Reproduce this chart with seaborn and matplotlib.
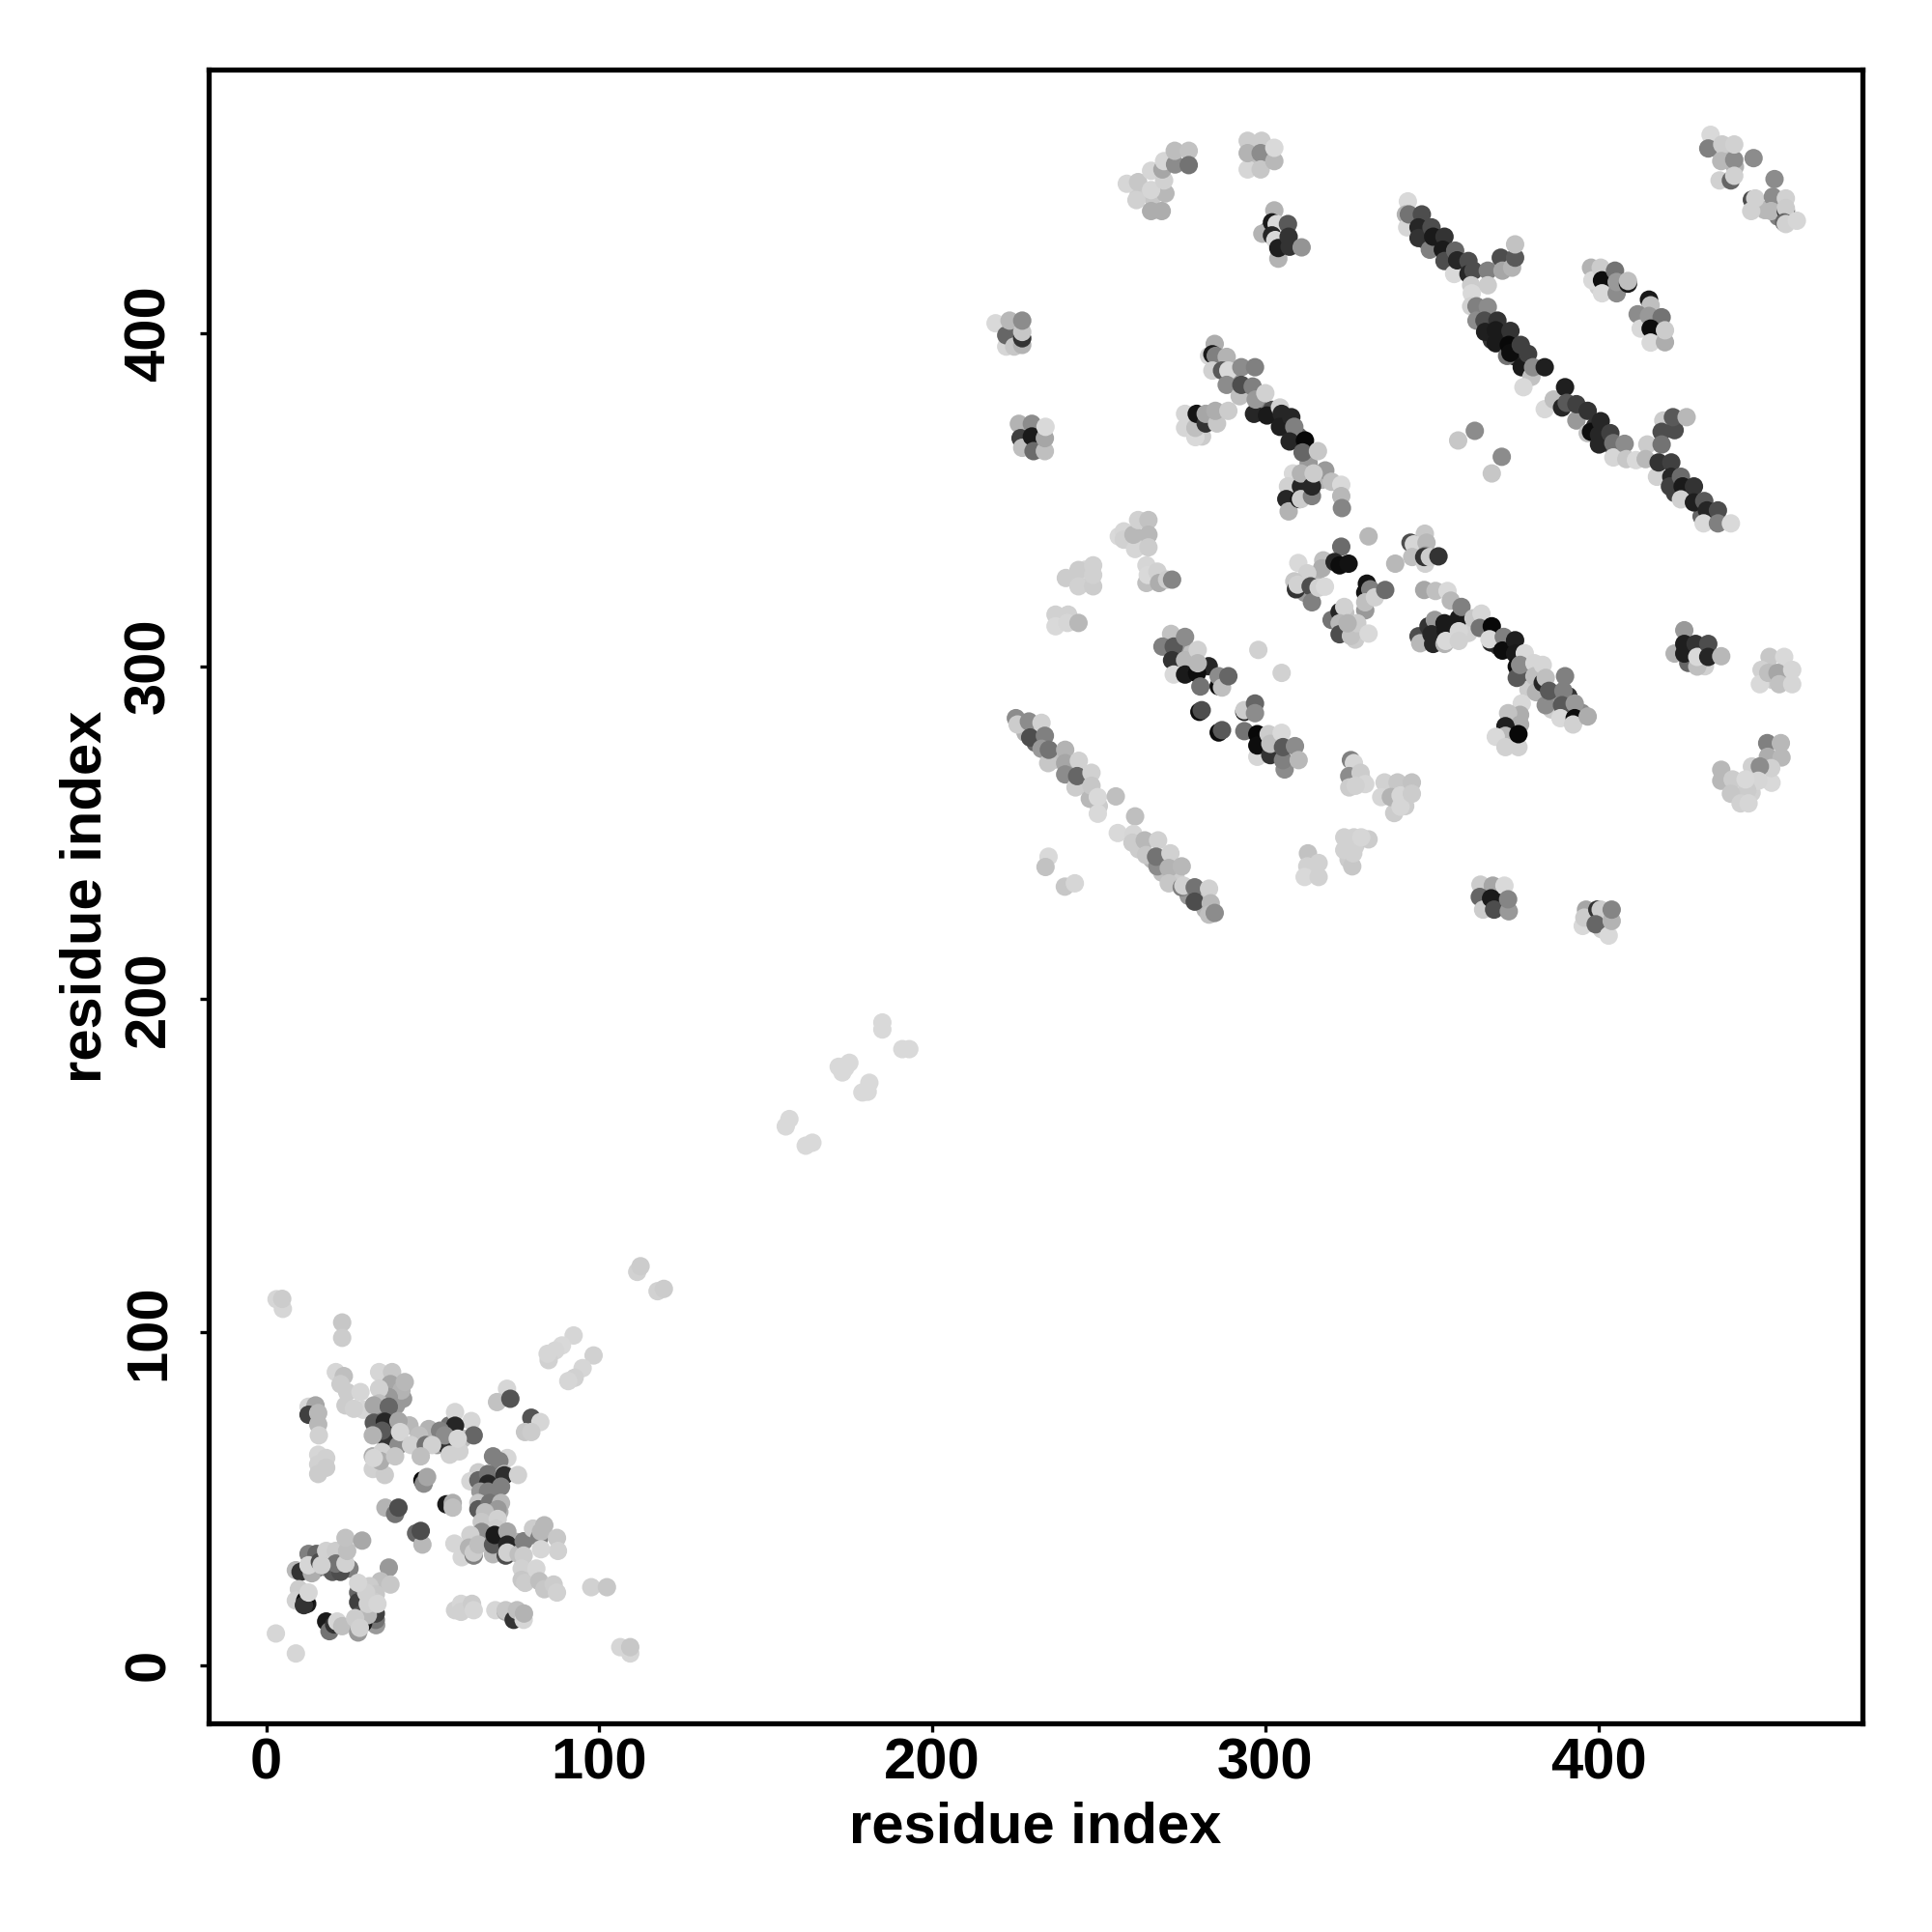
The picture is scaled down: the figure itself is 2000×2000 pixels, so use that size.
import pandas as pd
import seaborn as sns
import matplotlib.pyplot as plt

# contacts as (residue i, residue j, grey level), later ones are drawn on top
underlay = [(228,280,.7),(231,277,.4),(237,272,.75),(241,268,.7),(245,265,.78),(250,258,.8),(262,245,.8),(266,242,.72),(269,238,.75),(273,237,.8),(277,231,.6),(281,230,.75),(282,227,.7),
    (290,386,.6),(294,383,.7),(298,378,.5),(302,377,.3),(306,372,.2),(310,369,.4),(313,361,.6),(317,356,.7),
    (36,66,.7),(38,70,.55),(35,76,.5),(39,78,.6),(43,72,.72),(50,70,.6),(55,72,.45),(59,68,.75),(65,56,.6),(68,52,.5),(70,46,.7),(66,38,.6),(70,38,.4),(75,37,.7),(66,47,.72),
    (25,29,.5),(22,31,.4),(15,29,.4),(30,20,.4),(33,12,.6),(29,18,.35),(11,20,.3),
    (262,442,.8),(266,441,.78),(270,442,.72),(297,451,.75),(300,453,.7),(224,398,.6),(224,401,.5),(230,367,.6),(281,369,.8),(305,428,.15),(301,431,.5),
    (348,428,.3),(352,427,.25),(356,423,.3),(368,398,.2),(371,397,.15),(375,393,.15),(399,372,.2),(403,367,.3),(423,352,.25),(427,351,.3),(431,345,.4),
    (262,336,.82),(245,326,.8),(246,329,.84),(327,246,.82),(325,242,.8),(314,238,.84),(329,266,.82),(337,263,.8),(342,258,.8),(173,178,.85),
    (275,305,.6),(283,300,.15),(278,304,.75),(303,276,.4),(300,275,.7),
    (312,322,.6),(315,326,.7),(324,316,.76),(327,308,.8),(346,309,.3),(349,312,.2),(352,309,.84),(356,311,.2),(361,310,.82),
    (370,306,.2),(379,297,.3),(382,298,.8),(387,291,.6),(391,291,.2),(386,287,.8),(395,286,.55),(379,293,.8),
    (427,301,.4),(432,300,.82),(452,296,.8),(456,297,.75),(442,262,.84),(446,262,.82),(452,265,.85),(366,231,.5),(370,229,.2),(397,223,.8),(401,221,.82),(403,224,.75),
    (437,454,.75),(441,450,.7),(450,437,.72),(454,435,.5),(400,414,.82),(404,416,.5),(414,403,.7),(417,399,.7)]

sparse_low = [(3.1,109.9,.84),(5,107,.84),(4.8,110,.8),(22.8,102.9,.78),(22.8,98.3,.8),
    (2.9,9.5,.84),(8.9,3.5,.84),(106.3,5.4,.84),(109.3,3.5,.84),(109.3,5.4,.78),
    (97.6,23.4,.82),(102.3,23.4,.78),(111.4,118.1,.82),(112.4,119.8,.8),(117.5,112.3,.82),(119.4,113,.8),
    (92.3,99,.84),(98.3,93,.82),(88.8,96,.85),(86.8,94.5,.84),(84.8,91.6,.82),(84.5,93.5,.84),
    (95,89.2,.84),(92.6,86.3,.82),(90.7,85.3,.84),
    (72.3,83,.84),(69.3,79,.76),(73.3,80,.33),(79.6,74.3,.33),(77.7,70,.78),(82.3,73,.84),(79.6,70,.8),
    (56.7,76,.84),(61.6,73.3,.84),(56.7,71.9,.15),(62.3,69,.4)]

block_upper_left = [(20.9,88,.84),(23.3,86.8,.75),(22.3,84.4,.8),(24.3,82,.8),(28.3,82,.84),(23.8,78,.8),(29.1,76.7,.84),(26.3,77,.82),
    (12.7,77.6,.84),(14.8,78,.65),(12.7,75.2,.25),(15.6,75.7,.72),(15.6,72.3,.72),(15.8,69,.82),
    (15.6,63.2,.84),(18,62.2,.82),(15.6,60.3,.82),(18,59.3,.8),(15.6,57.4,.8)]

block_column = [(33.9,88,.84),(37.8,88,.78),(37.3,84.4,.65),(41.1,80,.6),(40.6,82.5,.7),(41.6,85,.72),(36.8,80.5,.6),(33.9,83,.82),
    (33.9,78.6,.75),(32.3,78,.65),(36.8,77.6,.4),(32.3,72.8,.35),(35.6,73.1,.15),(39.7,73.3,.65),(35.8,68.5,.2),(39.7,66,.55),
    (34.8,70.4,.35),(40.2,70,.84),(32,69,.7),(32,62.7,.68),(34.8,64,.82),(32,58.9,.82),(35.6,57.1,.8),(34.3,61.3,.68),(38.7,62.7,.78),(32.3,62.2,.84)]

block_band = [(46.4,64.6,.75),(48.8,70.9,.7),(45.9,69,.75),(43.5,66.1,.82),(47.9,66.1,.45),(51.3,66.1,.6),(52.2,70.4,.5),(54.1,66.1,.2),
    (53.6,69,.55),(49.8,66.1,.82),(55.1,63.2,.82),(58,64.2,.82),(57.5,68,.84),(46.4,62.7,.75),
    (46.9,55.5,.05),(47.3,54.5,.55),(48.3,56.5,.65),(54.1,48.3,.1),(56,48.7,.68),(56,47.3,.75),
    (35.8,47.3,.7),(38.7,45.4,.45),(39.7,47.3,.3),(45,39.6,.4),(46.9,36.2,.72),(46.4,40.3,.3)]

block_right = [(68.1,62.7,.5),(72.4,62.2,.84),(70,61.3,.5),(63.7,57.9,.8),(61.3,55.2,.84),(63.7,55.5,.4),(66.6,57.4,.45),(66.6,54.5,.15),
    (71.5,57.4,.75),(71.5,57,.18),(75.6,57.1,.82),(70.5,53.6,.5),(64.3,52.1,.6),(66.6,52.1,.5),(63.7,48.7,.78),(63.7,46.8,.35),
    (67.1,48.7,.45),(70.5,48.7,.72),(69.5,46.8,.6),(65.7,45.9,.75),(64.7,43,.78),(69.5,43.9,.82),(69,41,.8),(64.7,40,.55)]

block_lower_row = [(56.5,36.5,.84),(58.7,32.4,.84),(61.3,39.1,.82),(60.9,35.3,.7),(62.3,32.9,.5),(62.3,33.8,.8),(63.7,36.2,.75),(68.1,33.3,.72),
    (68.1,36.2,.35),(68.6,39.1,.1),(72.4,40.1,.65),(72.4,36.2,.15),(71.9,32.9,.3),(72.4,33.8,.82),(75.8,33.3,.75),(77.3,37.2,.5),
    (80.1,41,.8),(83.5,42,.72),(82,38.2,.5),(82.5,40.1,.72),(87.3,38.2,.78),(87.6,34.3,.82),(82.5,34.8,.84),(77.3,32.9,.8),
    (76.7,29,.82),(81.1,29,.84),(76.7,25.6,.78),(77.7,24.7,.8),(82,25.2,.75),(83.5,22.8,.78),(86.3,24.2,.8),(87.3,21.8,.82)]

block_ring = [(8.9,28.5,.72),(10.3,28,.2),(12.7,33.4,.5),(15.1,33.4,.4),(13.7,27.6,.68),(12.7,30,.84),(16.1,31,.3),(18,34.3,.82),(20.9,34.3,.8),
    (17.5,29.5,.55),(19.9,28,.35),(22.3,28,.3),(20.9,30.5,.45),(23.8,30.5,.82),(24.3,34.3,.75),(23.8,38.2,.76),(28.8,37.4,.66),(16.6,30,.82),
    (9.8,22.8,.8),(8.9,19.4,.82),(12.3,18.4,.1),(11.7,19.4,.05),(11.3,18,.2),(12.7,21.8,.84),
    (18,13.1,.1),(19,10.2,.45),(20.4,12.2,.2),(21.3,13.1,.84),(22.8,11.7,.75),
    (36.8,29.3,.6),(34.3,25.2,.75),(37.3,24.2,.78),(31,23.7,.8),(27.6,21.8,.4),(27.6,18.9,.25),(32.9,21.3,.78),(32.9,18.9,.8),
    (32.9,13.6,.45),(32.9,15.5,.25),(29.1,12.6,.1),(27.6,9.8,.6),(28.1,15,.3),(30.5,15,.72),(30.5,18.4,.82),(26.7,14.1,.8),(28.1,11.2,.82),
    (30,21.8,.82),(27.6,24.7,.84),(33.4,18.4,.84)]

low_strip = [(56.7,16.5,.82),(58.5,18.4,.84),(58.5,16,.82),(61.8,18.4,.8),(62.3,16.5,.84),(68.8,16.5,.84),
    (71.9,16,.7),(71.9,16.5,.78),(74.3,13.6,.2),(75.3,16.5,.75),(77.3,13.6,.84),(77.4,15.5,.7)]

linker = [(156,161.8,.85),(157.1,164,.85),(162,156,.85),(164,156.9,.85),(171.9,179.7,.85),(175.1,180.9,.85),(173.9,179.4,.85),
    (179,172,.85),(180.6,172.2,.85),(181.1,174.9,.85),(185,193,.85),(185,190.9,.85),(191,185,.85),(193.1,185,.85)]

top_clusters = [(258.4,444.9,.84),(261.8,445.4,.78),(261.3,440,.82),(265.7,448.8,.84),(265.7,443,.84),(265.7,436.7,.68),(268.9,436.7,.68),
    (269.6,445.9,.82),(269.1,449.2,.65),(269.6,451.7,.84),(272.9,450.7,.55),(272.8,454.8,.74),(277,454.8,.76),(277,450.5,.45),
    (294.7,457.8,.8),(294.7,449.2,.84),(294.7,454.1,.7),(298.9,457.8,.8),(298.6,454.1,.55),(298.6,449.2,.78),(302.7,451.7,.72),(302.7,455.7,.85),
    (302.7,436.9,.7),(299.1,429.9,.7),(302,433.3,.1),(303.4,432.8,.85),(302,429.4,.15),(303,428,.85),(303.9,422.4,.7),(303.9,425.6,.12),
    (306.8,432.8,.35),(307,429,.2),(307.3,426,.2),(310.9,425.8,.58),
    (219,403,.85),(222.2,396,.84),(222.2,399.4,.4),(223.2,403.8,.72),(224.6,396,.78),(227,396.5,.7),(227,398.5,.2),(227,400.4,.78),(227,403.8,.55),
    (226,372.8,.7),(229.9,372.8,.55),(226.5,368.5,.25),(227,365.6,.75),(229.9,369,.1),(230.4,364.6,.42),(233.8,364.6,.75),(233.8,368.5,.65),(234,371.9,.85),
    (275.9,375.8,.84),(275.9,371.6,.84),(279,368.8,.85),(279,371.6,.75),(279.4,375.8,.08),(282.1,372.9,.2),(282.1,375.8,.65),(285.5,372.9,.78),(285,376.7,.68),(288.9,376.7,.8)]

diag_mid = [(284.8,396.8,.68),(283.1,393.2,.84),(284.1,393.7,.1),(285.1,393.2,.5),(284.1,388.8,.82),(288.4,392.9,.7),(287,388.8,.35),(288.9,388.8,.85),
    (292.8,389.8,.55),(296.9,389.8,.5),(288.4,384.5,.55),(292.3,381.1,.75),(292.8,384.5,.3),(296.2,384,.5),(296.6,375.8,.15),(297.1,380.1,.6),
    (300,382,.82),(300.5,375.3,.1),(304.4,377.7,.82),(304.9,375.8,.15),(304.4,371.9,.12),(307.8,374.8,.15),(308.7,371.9,.5),(307.3,367.5,.15),
    (311.9,367.8,.03),(311.2,364.2,.4),(315.8,364.6,.78),(318,358.8,.6),(319.9,355.4,.75),(322.8,354.5,.85),(322.8,351.1,.72),(323,347.5,.52),
    (308.3,357.9,.85),(306.8,354,.82),(306.3,350.2,.15),(307,346.5,.7),(310.2,350.2,.08),(310.7,354,.15),(310.7,350.2,.8),(310.7,357.9,.7),
    (314,351.1,.5),(314,354,.15),(314.5,357.9,.8)]

diag_top = [(342.8,439.6,.85),(342.2,435.7,.7),(342.6,431.8,.84),(343.1,435.7,.45),(347,435.7,.3),(346,431.8,.15),(346,428.6,.2),(349.9,431.8,.3),
    (349.4,425.1,.5),(350.4,429,.1),(353.8,429,.2),(353.3,425.1,.1),(353.8,421.7,.3),(356.7,417.8,.85),(357,424.8,.4),(357.6,421.9,.15),
    (361,421.7,.3),(361,417.8,.15),(362.5,418.8,.3),(361.8,414.4,.8),(366.8,418.8,.5),(366.8,414.4,.8),
    (370.7,422.7,.3),(371.2,418.8,.65),(374.1,419.7,.7),(375,422.7,.35),(375,426.7,.76),
    (362,412,.85),(361.8,408.1,.82),(363.4,408.1,.5),(363.4,403.8,.55),(366.8,407.9,.55),(365.8,403.8,.3),(366,400.4,.12),(369.7,403.8,.2),
    (369.2,400.9,.1),(369.2,397,.1),(373.6,400.7,.2),(372.6,393.2,.45),(373.1,396.5,.03),(373.6,394.1,.05),(376.7,396.5,.25),(377,389.8,.1),
    (378.9,393.8,.25),(379.9,386.9,.76),(377.5,383.8,.85),(380.4,389.8,.55),(383.9,389.8,.12)]

diag_right = [(383.9,377.2,.85),(386.6,380.1,.75),(389.1,377.7,.15),(390,383.8,.12),(390.5,379.1,.35),(393.4,373.8,.6),(393.4,378.7,.25),
    (396.8,376.7,.2),(396.8,370,.75),(397.8,370.4,.05),(400.7,373.6,.15),(400.2,369.5,.15),(400.2,366.6,.15),(403.6,370,.25),(404.5,367,.45),
    (404.5,362.7,.84),(407.9,366.8,.55),(408.4,362.2,.78),(411.3,361.9,.85),
    (414.7,366.6,.8),(414.2,362.2,.72),(419.5,373.8,.8),(419,370.4,.3),(422.9,370.9,.3),(422.4,374.8,.35),(426.5,374.8,.72),(419,366.6,.45),
    (417.6,356.9,.82),(418.1,361.2,.2),(421.9,361.2,.25),(421.9,356.9,.15),(421.5,354,.25),(424.8,356.9,.42),(425.3,354,.1),(424.8,350.1,.82),
    (428.7,354,.2),(428.7,349.2,.12),(431.8,349.6,.35),(432.6,346.8,.15),(431.6,342.9,.85),(435.9,346.8,.3),(435.9,342.9,.5),(439.8,342.9,.85),
    (357.9,367.8,.78),(362.9,370.7,.55),(368,357.9,.78),(371,362.9,.55)]

corner_clusters = [(397.8,419.7,.7),(398.2,415.9,.85),(400.7,419.7,.8),(401.1,415.9,.05),(401.1,412,.85),(405,418.8,.45),(405.5,412,.55),(405.5,415.4,.6),
    (408.9,414.9,.1),(408.9,415.7,.75),
    (415.2,410.1,.1),(415.7,408.4,.75),(411.8,405.7,.55),(412.7,401.4,.85),(415.2,405.2,.6),(419,404.8,.45),(415.7,401.4,.05),(415.7,397.2,.85),(420,397.3,.68),(420,400.9,.8),
    (433.7,459.6,.85),(433,455.5,.5),(437.2,456.7,.8),(436.9,451.7,.72),(440.8,452.1,.55),(440.8,456.7,.82),(446.6,452.6,.55),(436.4,445.9,.82),(439.8,445.9,.4),(440.8,447.3,.82),
    (452.9,446.3,.55),(446.1,440.1,.3),(447.1,440.5,.82),(445.9,436.7,.82),(452.4,441,.55),(451.9,436.7,.72),(456.3,436.7,.2),(456.3,440.5,.82),(456.3,437.6,.8),(455.8,433.3,.4),(456.3,432.8,.82),(459.6,433.8,.84)]

mid_left = [(256,339,.85),(257.5,340.5,.84),(257.5,338,.82),(260.9,335.2,.84),(260.4,339.5,.72),(261.8,343.9,.82),(264.9,343.9,.76),(264.9,339.5,.72),(264.9,335.7,.8),
    (264.3,325,.75),(264.3,330.3,.84),(264.7,327.4,.85),(267.6,328.4,.82),(268.1,325,.68),(270.5,326,.8),(272,326,.52),
    (240.1,326.5,.8),(243.9,328.9,.8),(243.9,324,.82),(248.3,330.3,.82),(248.3,324,.8),(248.3,327.4,.82),
    (237,315.5,.82),(237,312,.85),(240.8,315.5,.82),(240.6,313,.84),(243.9,313,.72),
    (271.7,309.7,.76),(269.1,305.9,.5),(272.5,305.9,.35),(272,301.8,.2),(275.9,308.8,.55),(272.5,297.5,.85),(275.9,301.8,.72),(275.9,297.5,.1),(279.5,297.9,.05),
    (279.7,304.9,.82),(279.7,300.9,.72),(280.5,293.9,.45),(286,294,.05),(286,297,.55),(287,293.6,.75),(288.9,297,.4),
    (297.9,304.9,.82),(304.9,298,.82),(280.2,286.3,.05),(280.9,286.8,.3),(286,280.1,.05),(287,280.8,.35),
    (293.7,286.3,.1),(293.7,286.8,.8),(296.9,288.8,.4),(296.9,285.9,.55),(293.7,280.5,.45),(297.6,272.8,.84),(297.6,279.6,.03),(297.6,276.2,.05),(301,279.6,.8),
    (301.5,273.3,.2),(301.5,276.7,.75),(304.9,280,.85),(305.8,269,.55),(305.3,271.8,.5),(305.3,275.7,.35),(308.9,276,.55),(310,271.8,.72)]

diag_low = [(225.1,284.4,.55),(225.6,282.5,.8),(229,283.4,.55),(229.4,278.6,.3),(232.8,283,.82),(233.8,279.1,.5),(232.8,275.2,.6),(234.8,270.9,.78),(235,274.9,.45),
    (239.9,274.9,.7),(239.9,270.9,.65),(239.9,267.5,.55),(244,271.6,.82),(243,263.6,.8),(243.5,267,.4),(247.8,268,.82),(247.3,260.2,.72),(247.8,264.1,.78),(249.7,260.7,.85),
    (255.1,260.9,.75),(249.7,255.7,.85),
    (260.9,254.9,.75),(255.7,249.9,.85),(260.4,249.6,.84),(260.1,247,.8),(263.8,247.7,.72),(264.2,243.3,.78),(267.8,247.7,.82),(267.6,239.9,.55),(267.2,242.8,.45),
    (271.5,243.8,.82),(271,239.4,.7),(274.9,239.9,.72),(271,234.8,.78),(274.9,233.6,.5),(275.4,234.1,.82),(278.8,233.6,.45),(278.8,229.3,.3),(283.1,233.2,.82),
    (283.6,228.8,.72),(283.1,225.4,.75),(284.8,225.9,.55),
    (234.9,242.8,.85),(234,239.7,.76),(239.8,233.8,.78),(242.8,234.8,.84)]

mid_right = [(312.8,243.8,.76),(312.6,239.9,.82),(311.8,236.7,.85),(316,240.9,.82),(316,236.7,.82),
    (323.7,244.8,.82),(326.1,239.9,.78),(326.4,243.8,.82),(323.7,248.6,.82),(326.6,248.6,.82),(331,248,.8),(328.8,248.6,.84),
    (325.7,271.8,.5),(326.6,270.9,.84),(325.2,267,.55),(325.2,263.6,.8),(328.6,268,.8),(330,264.6,.84),(327.1,264.1,.82),
    (335.8,265.1,.82),(334.8,260.7,.84),(339.7,265.1,.78),(338.7,255.9,.8),(337.7,260.7,.7),(340.6,261.2,.84),(340.6,257.8,.84),(344,265.1,.76),(344,261.7,.8),
    (331,339,.72),(339,330.8,.72),
    (322.8,335.9,.42),(317.4,331.8,.75),(309.9,331,.85),(317,329.4,.68),(320.8,331.3,.15),(322.3,330.3,.05),(325,330.8,.07),(312.6,327.9,.82),(308.7,325.5,.78),
    (309.2,323.1,.2),(309.7,324.5,.82),(313.6,324,.3),(314,319.2,.5),(316,323.6,.82),(317.9,323.9,.85),
    (330.5,324.8,.08),(330,322.1,.08),(331.5,323.1,.5),(330,316.8,.6),(330,319.2,.75),(332.9,320.7,.82),(336,322.9,.42),
    (319.9,313.9,.45),(322.3,316.3,.15),(323.7,317.8,.82),(322.3,312.9,.72),(322.3,309.6,.3),(325.7,309.1,.76),(327.6,312.9,.8),(324.7,312.9,.7),(331,309.8,.85),
    (347.9,339.8,.78),(343.6,337.1,.3),(344.6,336.6,.84),(344.1,332.8,.75),(348.4,337.1,.72),(348,333.2,.55),(348,330.8,.82),(347.7,332.8,.2),(349.4,332.8,.8),(352,333,.2)]

diag_lower_right = [(347.7,322.9,.65),(351.1,322.6,.75),(354.7,322.6,.85),(355.7,319.7,.72),(350.9,313.9,.6),(346.5,306.9,.72),(349.9,309.6,.15),(350.4,306.7,.15),
    (353.8,312.9,.1),(354.2,310.5,.1),(353.8,306.7,.7),(354.2,307.6,.85),(358.1,314.4,.1),(358.1,310.5,.84),(358.9,317.8,.5),(358.1,307.6,.82),(362.5,314.4,.78),(364.9,315.8,.84),(364.4,311.5,.45),
    (368,312,.03),(367.8,307.1,.15),(367.3,308.1,.85),(371.6,308.8,.5),(371.2,304.7,.05),(375,307.8,.12),(375,303.8,.1),(377.9,303.9,.85),(375.5,299.9,.05),(375.5,296.5,.35),
    (376.5,300.4,.55),(380.8,300.9,.84),(380.8,297,.75),(383.3,300.4,.84),(381.3,292.2,.7),(383.3,295,.15),(384.2,288.3,.55),(384.2,296.5,.75),(385.2,292.6,.35),
    (390,297,.5),(389.5,292.6,.5),(389.1,288.3,.35),(388.6,284.4,.85),(392.9,288.8,.6),(392.9,284.4,.05),(392.4,282.5,.82),(396.8,284.9,.68),
    (377,288.8,.85),(376.5,285.4,.68),(372.9,285.9,.76),(376.5,282.5,.68),(372.1,282,.12),(372.1,279.1,.72),(369.2,278.8,.85),(372.1,275.7,.82),(376,275.7,.82),(376,279.6,.03)]

right_clusters = [(425.8,310.8,.6),(422.9,303.8,.7),(425.8,306.7,.12),(425.8,303.8,.12),(429.7,299.9,.75),(429.2,306.7,.2),(429.7,302.8,.85),(433,306.7,.3),(433,302.8,.15),(436.9,303,.72),
    (451.4,302.8,.78),(455.8,302.8,.85),(449,298.9,.82),(448.5,294.6,.85),(451,298,.75),(453.8,298,.65),(454.3,294.6,.76),(458.2,298.9,.84),(458.2,294.6,.84),
    (450.7,276.9,.5),(454.8,276.9,.72),(450.9,272.8,.68),(455,272.6,.72),(451.9,269.4,.82),(446.1,269.9,.82),(448.5,269.9,.55),(448,265.6,.84),(444.7,262.7,.8),
    (436.9,268.9,.72),(436.9,265.6,.72),(440.3,266,.8),(439.8,261.7,.78),(444.2,266,.85),(442.7,258.8,.82),(445.1,258.8,.84),
    (364.6,234.4,.8),(368.3,234.1,.65),(371.8,234.1,.85),(364.4,230.7,.4),(365.4,226.9,.8),(367.8,230.3,.1),(368.7,226.9,.3),(373.1,226.4,.6),(372.9,230,.52),
    (396.3,226.9,.65),(395.3,222,.85),(395.8,224.5,.8),(399.7,226.9,.2),(400.7,226.9,.8),(399.2,222.5,.4),(403.1,219.1,.85),(404,223.5,.7),(404,226.9,.52)]

tick_vals = [0, 100, 200, 300, 400]

groups = [underlay, sparse_low, block_upper_left, block_column, block_band, block_right, block_lower_row, block_ring, low_strip,
          linker, top_clusters, diag_mid, diag_top, diag_right, corner_clusters, mid_left, diag_low, mid_right,
          diag_lower_right, right_clusters]
dat = pd.DataFrame([row for g in groups for row in g], columns=['i', 'j', 'grey'])
dat['colour'] = dat.grey.map(lambda g: str(g))

sns.set_theme(style='white')
plt.rcParams['font.family'] = ['Liberation Sans', 'DejaVu Sans']
plt.rcParams['font.weight'] = 'bold'

fig = plt.figure(figsize=(10, 10), dpi=200)
ax = fig.add_axes([216.3/2000, 216.3/2000, 1711.7/2000, 1711.7/2000])

sns.scatterplot(data=dat, x='i', y='j', hue='colour', palette={c: c for c in dat.colour.unique()},
                s=47, linewidth=0, legend=False, ax=ax)

ax.set_xlim(-17.2, 479.3)
ax.set_ylim(-17.4, 479.2)
ax.set_xticks(tick_vals)
ax.set_yticks(tick_vals)
ax.tick_params(length=3.2, width=1.2, color='black', labelcolor='black', labelsize=21.5, bottom=True, left=True)
ax.tick_params(axis='x', pad=2)
ax.tick_params(axis='y', pad=9)
plt.setp(ax.get_yticklabels(), rotation=90, va='center')
for side in ax.spines.values():
    side.set_linewidth(1.9)
    side.set_color('black')
ax.set_xlabel('residue index', fontsize=21.5, fontweight='bold', color='black', labelpad=4)
ax.set_ylabel('residue index', fontsize=21.5, fontweight='bold', color='black', labelpad=4)

fig.savefig('out.png', dpi=200)
